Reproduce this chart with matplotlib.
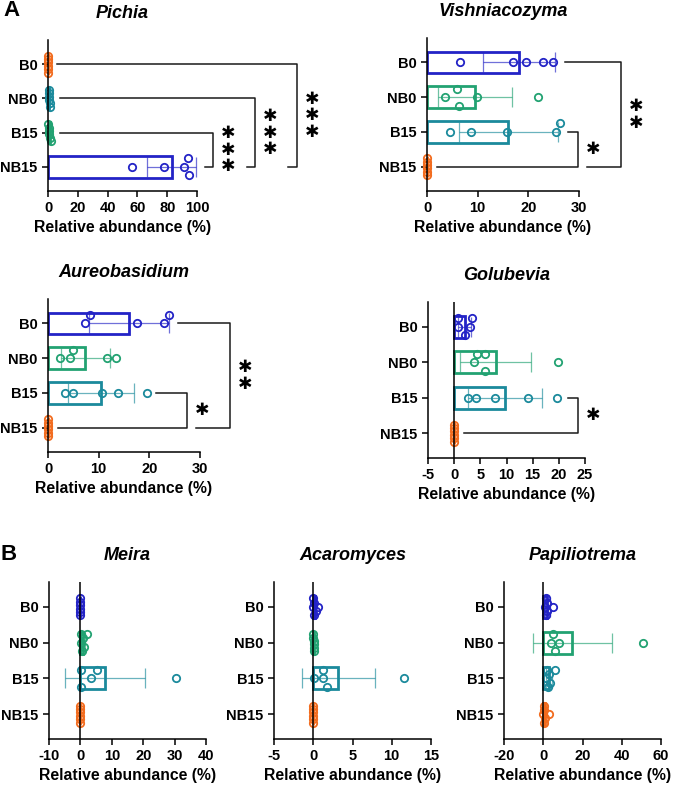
import matplotlib
matplotlib.use("Agg")
import matplotlib.pyplot as plt
import numpy as np

plt.rcParams['font.family'] = ['Liberation Sans', 'DejaVu Sans']
plt.rcParams['font.weight'] = 'bold'

W, H = 685, 790
groups = ['B0', 'NB0', 'B15', 'NB15']

BLUE = '#2323c6'
GREEN = '#22a272'
TEAL = '#1b8a9c'
ORANGE = '#f26b1d'

# relative abundance (%) per sample, order B0, NB0, B15, NB15
pichia = [[0, 0, 0, 0, 0, 0],
          [0.5, 1.0, 0.8, 1.4, 1.2, 0.9],
          [0.3, 1.5, 0.8, 2.0, 1.0, 0.5],
          [56.6, 78.0, 91.5, 94.2, 94.8]]
vishniacozyma = [[6.6, 17.0, 19.5, 22.8, 24.9],
                 [3.6, 5.9, 6.3, 9.9, 22.0],
                 [4.5, 8.6, 15.7, 25.4, 26.2],
                 [0, 0, 0, 0, 0, 0]]
aureobasidium = [[8.3, 7.3, 17.5, 22.9, 23.9],
                 [2.4, 4.3, 5.0, 11.7, 13.4],
                 [3.4, 4.9, 10.6, 13.9, 19.5],
                 [0, 0, 0, 0, 0, 0]]
golubevia = [[0.8, 0.8, 2.1, 3.0, 3.4],
             [4.3, 5.8, 3.7, 5.8, 19.9],
             [2.7, 4.1, 7.8, 14.1, 19.7],
             [0, 0, 0, 0, 0, 0]]
meira = [[0, 0, 0, 0, 0, 0],
         [0.2, 0.7, 0.4, 2.1, 1.0, 0.3],
         [0.1, 3.3, 5.2, 0.1, 30.4],
         [0, 0, 0, 0, 0, 0]]
acaromyces = [[0.0, 0.15, 0.0, 0.3, 0.55, 0.05],
              [0.0, 0.05, 0.1, 0.05, 0.1, 0.0],
              [0.1, 1.3, 1.3, 1.8, 11.5],
              [0, 0, 0, 0, 0, 0]]
papiliotrema = [[1.0, 1.5, 1.7, 2.0, 1.3, 4.9],
                [6.0, 5.1, 3.9, 8.2, 50.7],
                [1.6, 2.0, 2.4, 2.8, 3.3, 6.0],
                [0.1, 0.3, 0.5, 0.8, 0.2, 3.0]]

SPREAD = 8.5   # px, vertical spread of the dots
DOT = 7.0      # px, dot diameter


def swarm(vals, pxx):
    xs = np.asarray(vals, float) * pxx
    order = np.argsort(xs, kind='stable')
    off = np.zeros(len(xs))
    clusters = [[order[0]]]
    for a, b in zip(order[:-1], order[1:]):
        if xs[b] - xs[a] < DOT:
            clusters[-1].append(b)
        else:
            clusters.append([b])
    cands = [0, -1, 1, -0.5, 0.5, -0.75, 0.75, -0.25, 0.25]
    for cl in clusters:
        k = len(cl)
        if k == 1:
            continue
        if xs[cl[-1]] - xs[cl[0]] < 3:
            off[cl] = np.linspace(-1, 1, k)
            continue
        placed = []
        for j in cl:
            best, bestd = 0, -1
            for c in cands:
                dm = min([np.hypot(xs[j] - xs[p], (c - off[p]) * SPREAD) for p in placed], default=1e9)
                if dm >= DOT:
                    best = c
                    break
                if dm > bestd:
                    best, bestd = c, dm
            off[j] = best
            placed.append(j)
    return off


def panel(name, pts, cols, box, xlim, xticks, brackets=()):
    x0, y0, x1, y1 = box
    ax = fig.add_axes([x0 / W, 1 - y1 / H, (x1 - x0) / W, (y1 - y0) / H])
    pxx = (x1 - x0) / (xlim[1] - xlim[0])
    pxy = (y1 - y0) / 4.4
    for i, (vals, c) in enumerate(zip(pts, cols)):
        vals = np.asarray(vals, float)
        m = vals.mean()
        sd = vals.std(ddof=1)
        ax.barh(i, m, height=0.62, facecolor='white', edgecolor=c, linewidth=2.0, zorder=1)
        ax.errorbar(m, i, xerr=sd, color=c, alpha=0.65, lw=0.9, capsize=7.5, capthick=0.9, zorder=1.5)
        off = swarm(vals, pxx) * SPREAD / pxy
        ax.plot(vals, i + off, 'o', mfc='none', mec=c, ms=5.3, mew=1.3, clip_on=False, zorder=2)
    if xlim[0] < 0:
        ax.axvline(0, color='black', lw=1.1, zorder=3)
    ax.set_xlim(*xlim)
    ax.set_ylim(3.7, -0.7)
    ax.set_xticks(xticks)
    ax.set_xticklabels([str(t) for t in xticks])
    ax.set_yticks(range(4))
    ax.set_yticklabels(groups)
    for s in ['top', 'right']:
        ax.spines[s].set_visible(False)
    for s in ['left', 'bottom']:
        ax.spines[s].set_linewidth(1.1)
    ax.tick_params(direction='out', length=4, width=1.1, labelsize=10.5)
    ax.set_xlabel('Relative abundance (%)', fontsize=11.3, fontweight='bold', labelpad=3)
    ax.set_title(name, fontsize=13, fontweight='bold', style='italic', pad=16)
    for top, bot, xts, xbs, xv, n in brackets:
        ax.plot([xts, xv, xv, xbs], [top, top, bot, bot], color='#1a1a1a', lw=1.1,
                clip_on=False, zorder=3)
        ymid = (top + bot) / 2
        ax.text(xv + 15 / pxx, ymid, '\n'.join(['\u2731'] * n), fontsize=12.5,
                linespacing=0.88, ha='center', va='center', color='black',
                family='DejaVu Sans')
    return ax


fig = plt.figure(figsize=(W / 100, H / 100), dpi=100)

panel('Pichia', pichia, [ORANGE, TEAL, GREEN, BLUE], (48, 40, 197, 191), (0, 100),
      [0, 20, 40, 60, 80, 100],
      [(2, 3, 8, 105.4, 111, 3), (1, 3, 8, 133.3, 139, 3), (0, 3, 6, 161.3, 167, 3)])
panel('Vishniacozyma', vishniacozyma, [BLUE, GREEN, TEAL, ORANGE], (427, 38, 579, 191), (0, 30),
      [0, 10, 20, 30],
      [(2, 3, 27.8, 2.0, 29.8, 1), (0, 3, 27.2, 31.6, 38.3, 2)])
panel('Aureobasidium', aureobasidium, [BLUE, GREEN, TEAL, ORANGE], (48, 299, 200, 452), (0, 30),
      [0, 10, 20, 30],
      [(2, 3, 21.4, 1.9, 27.5, 1), (0, 3, 25.7, 29.2, 35.9, 2)])
panel('Golubevia', golubevia, [BLUE, GREEN, TEAL, ORANGE], (428, 302, 585, 458), (-5, 25),
      [-5, 0, 5, 10, 15, 20, 25],
      [(2, 3, 21.7, 1.8, 23.6, 1)])
panel('Meira', meira, [BLUE, GREEN, TEAL, ORANGE], (49, 582, 206, 739), (-10, 40),
      [-10, 0, 10, 20, 30, 40])
panel('Acaromyces', acaromyces, [BLUE, GREEN, TEAL, ORANGE], (274, 582, 431, 739), (-5, 15),
      [-5, 0, 5, 10, 15])
panel('Papiliotrema', papiliotrema, [BLUE, GREEN, TEAL, ORANGE], (504, 582, 661, 739), (-20, 60),
      [-20, 0, 20, 40, 60])

fig.text(3 / W, 1 - 11 / H, 'A', fontsize=16, fontweight='bold', va='center', ha='left')
fig.text(1 / W, 1 - 554 / H, 'B', fontsize=16, fontweight='bold', va='center', ha='left')

fig.savefig('out.png', dpi=100)
